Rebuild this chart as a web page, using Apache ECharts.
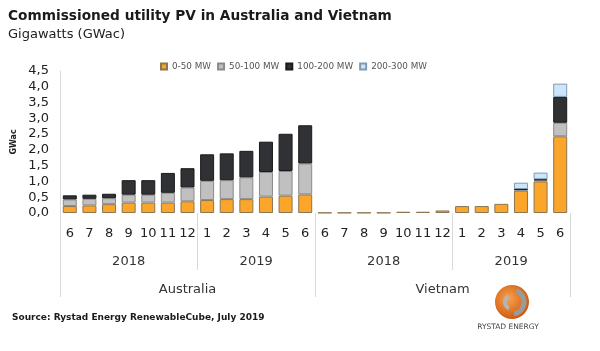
<!DOCTYPE html>
<html>
<head>
<meta charset="utf-8">
<script src="https://cdn.jsdelivr.net/npm/echarts@6/dist/echarts.min.js"></script>
<style>
html,body{margin:0;padding:0;background:#fff}
#chart{width:600px;height:351px}
</style>
</head>
<body>
<div id="chart"></div>
<script>
var countries = ['Australia', 'Vietnam'];
var years = ['2018', '2019'];
var monthsByYear = [['6', '7', '8', '9', '10', '11', '12'], ['1', '2', '3', '4', '5', '6']];
var seriesNames = ['0-50 MW', '50-100 MW', '100-200 MW', '200-300 MW'];

// GWac, Australia 6/2018..6/2019 then Vietnam 6/2018..6/2019
var mw0to50 = [0.22, 0.24, 0.28, 0.33, 0.33, 0.33, 0.37, 0.41, 0.44, 0.44, 0.52, 0.55, 0.59,
	0.01, 0.01, 0.01, 0.01, 0.04, 0.04, 0.08, 0.22, 0.22, 0.29, 0.71, 1.00, 2.43];
var mw50to100 = [0.21, 0.21, 0.19, 0.25, 0.25, 0.31, 0.44, 0.61, 0.60, 0.69, 0.78, 0.78, 0.98,
	0, 0, 0, 0, 0, 0, 0, 0, 0, 0, 0.03, 0.04, 0.43];
var mw100to200 = [0.13, 0.13, 0.14, 0.46, 0.46, 0.63, 0.61, 0.84, 0.85, 0.84, 0.96, 1.18, 1.21,
	0, 0, 0, 0, 0, 0, 0, 0, 0, 0, 0.02, 0.03, 0.82];
var mw200to300 = [0, 0, 0, 0, 0, 0, 0, 0, 0, 0, 0, 0, 0,
	0, 0, 0, 0, 0, 0, 0, 0, 0, 0, 0.20, 0.21, 0.42];

var colors = ['#FBA52A', '#C0C0C0', '#2F3135', '#CCE5FA'];
var borders = ['#8c7650', '#8a8a8a', '#1a1a1a', '#7f9bb2'];
var font = 'DejaVu Sans';

// 类目: country|year|month
var cats = [];
var yearTick = {}, countryTick = {};
var yearLabel = {}, countryLabel = {};
countries.forEach(function(c) {
	countryTick[cats.length] = true;
	var cStart = cats.length, cLen = 0;
	years.forEach(function(y, yi) {
		yearTick[cats.length] = true;
		var n = monthsByYear[yi].length;
		var mid = cats.length + Math.floor((n - 1) / 2);
		yearLabel[mid] = n % 2 ? y : '{h|' + y + '}';
		monthsByYear[yi].forEach(function(m) {
			cats.push(c + '|' + y + '|' + m);
		});
		cLen += n;
	});
	var cm = cStart + Math.floor((cLen - 1) / 2);
	countryLabel[cm] = cLen % 2 ? c : '{h|' + c + '}';
});

function toBar(arr) {
	return arr.map(function(v) { return v > 0 ? v : '-'; });
}

var halfBand = { padding: [0, 0, 0, 19.6], fontSize: 13, fontFamily: font, color: '#333' };

var chart = echarts.init(document.getElementById('chart'));
chart.setOption({
	animation: false,
	textStyle: { fontFamily: font },
	title: {
		text: 'Commissioned utility PV in Australia and Vietnam',
		subtext: 'Gigawatts (GWac)',
		left: 8,
		top: 9,
		padding: 0,
		itemGap: 5,
		textStyle: { fontSize: 13.7, fontWeight: 'bold', color: '#1a1a1a', fontFamily: font },
		subtextStyle: { fontSize: 13, color: '#222', fontFamily: font }
	},
	legend: {
		data: seriesNames,
		left: 155,
		top: 57,
		icon: 'rect',
		itemWidth: 6,
		itemHeight: 6,
		itemGap: 6,
		textStyle: { fontSize: 8.8, color: '#555', fontFamily: font }
	},
	grid: {
		left: 60,
		right: 30,
		top: 71,
		bottom: 138
	},
	xAxis: [{
		type: 'category',
		position: 'bottom',
		data: cats,
		axisLine: { show: false },
		axisTick: { show: false },
		axisLabel: {
			interval: 0,
			margin: 14,
			fontSize: 13,
			color: '#222',
			formatter: function(v) { return v.split('|')[2]; }
		}
	}, {
		type: 'category',
		position: 'bottom',
		data: cats,
		axisLine: { show: false },
		axisTick: {
			show: true,
			length: 57,
			interval: function(i) { return !!yearTick[i]; },
			lineStyle: { color: '#d9d9d9' }
		},
		axisLabel: {
			interval: 0,
			margin: 42,
			fontSize: 13,
			color: '#333',
			formatter: function(v, i) { return yearLabel[i] || ''; },
			rich: { h: halfBand }
		}
	}, {
		type: 'category',
		position: 'bottom',
		data: cats,
		axisLine: { show: false },
		axisTick: {
			show: true,
			length: 84,
			interval: function(i) { return !!countryTick[i]; },
			lineStyle: { color: '#d9d9d9' }
		},
		axisLabel: {
			interval: 0,
			margin: 70,
			fontSize: 13,
			color: '#333',
			formatter: function(v, i) { return countryLabel[i] || ''; },
			rich: { h: halfBand }
		}
	}],
	yAxis: {
		type: 'value',
		min: 0,
		max: 4.5,
		interval: 0.5,
		name: 'GWac',
		nameLocation: 'middle',
		nameGap: 38,
		nameRotate: 90,
		nameTextStyle: { fontSize: 8, fontWeight: 'bold', color: '#222' },
		axisLine: { show: true, lineStyle: { color: '#d9d9d9' } },
		axisTick: { show: false },
		splitLine: { show: false },
		axisLabel: {
			fontSize: 13,
			color: '#222',
			margin: 11,
			formatter: function(v) { return v.toFixed(1).replace('.', ','); }
		}
	},
	series: [mw0to50, mw50to100, mw100to200, mw200to300].map(function(d, i) {
		return {
			name: seriesNames[i],
			type: 'bar',
			stack: 'pv',
			xAxisIndex: 0,
			barWidth: 14,
			data: toBar(d),
			itemStyle: { color: colors[i], borderColor: borders[i], borderWidth: 1 }
		};
	}),
	graphic: [{
		type: 'text',
		left: 12,
		top: 313,
		style: {
			text: 'Source: Rystad Energy RenewableCube, July 2019',
			font: 'bold 9px "DejaVu Sans"',
			fill: '#1a1a1a'
		}
	}, {
		type: 'circle',
		shape: { cx: 512, cy: 302, r: 17 },
		style: {
			fill: new echarts.graphic.RadialGradient(0.4, 0.4, 0.7, [
				{ offset: 0, color: '#f9a24a' },
				{ offset: 1, color: '#c8500c' }
			])
		}
	}, {
		type: 'arc',
		shape: { cx: 512, cy: 302, r: 12, startAngle: -1.2, endAngle: 1.4 },
		style: { stroke: '#9a9a9a', lineWidth: 5, fill: null }
	}, {
		type: 'arc',
		shape: { cx: 512, cy: 302, r: 7, startAngle: 2.0, endAngle: 4.2 },
		style: { stroke: '#b5b5b5', lineWidth: 4, fill: null }
	}, {
		type: 'text',
		x: 508,
		y: 327,
		style: {
			text: 'RYSTAD ENERGY',
			font: '7.5px "DejaVu Sans"',
			fill: '#444',
			align: 'center',
			verticalAlign: 'middle'
		}
	}]
});
</script>
</body>
</html>
